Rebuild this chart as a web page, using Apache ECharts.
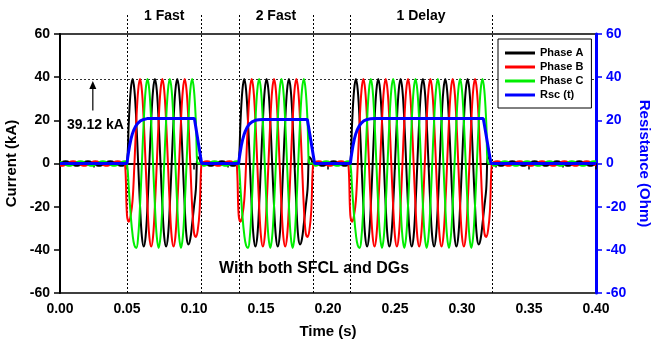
<!DOCTYPE html>
<html>
<head>
<meta charset="utf-8">
<script src="https://cdn.jsdelivr.net/npm/echarts@6/dist/echarts.min.js"></script>
<style>
  html, body { margin: 0; padding: 0; background: #fff; }
  #chart { width: 653px; height: 345px; }
</style>
</head>
<body>
<div id="chart"></div>
<script>
// Phase currents (kA), sampled every 1/720 s (12 samples per 60 Hz cycle), t = 0 ... 0.40 s
const SAMPLE_RATE = 720;

const phaseA = [
  0, 0.5, 0.9, 1, 0.9, 0.5, 0, -0.5, -0.9, -1, -0.9, -0.5,
  0, 0.5, 0.9, 1, 0.9, 0.5, 0, -0.5, -0.9, -1, -0.9, -0.5,
  0, 0.5, 0.9, 1, 0.9, 0.5, 0, -0.5, -0.9, -1, -0.9, -0.5,
  0, 19.6, 33.9, 39.1, 33.9, 19.6, 0, -19.6, -33.9, -38.5, -33.9, -19.6,
  0, 19.6, 33.9, 39.1, 33.9, 19.6, 0, -19.6, -33.9, -38.5, -33.9, -19.6,
  0, 19.6, 33.9, 39.1, 33.9, 19.6, 0, -19.6, -33.9, -37.5, -35, -28,
  -20, -12, 3, 2, 0, 0.5, 0, -0.5, -0.9, -1, -0.9, -0.5,
  0, 0.5, 0.9, 1, 0.9, 0.5, 0, -0.5, -0.9, -1, -0.9, -0.5,
  0, 19.6, 33.9, 39.1, 33.9, 19.6, 0, -19.6, -33.9, -38.5, -33.9, -19.6,
  0, 19.6, 33.9, 39.1, 33.9, 19.6, 0, -19.6, -33.9, -38.5, -33.9, -19.6,
  0, 19.6, 33.9, 39.1, 33.9, 19.6, 0, -19.6, -33.9, -37.5, -35, -28,
  -20, -12, 3, 2, 0, 0.5, 0, -0.5, -0.9, -1, -0.9, -0.5,
  0, 0.5, 0.9, 1, 0.9, 0.5, 0, -0.5, -0.9, -1, -0.9, -0.5,
  0, 19.6, 33.9, 39.1, 33.9, 19.6, 0, -19.6, -33.9, -38.5, -33.9, -19.6,
  0, 19.6, 33.9, 39.1, 33.9, 19.6, 0, -19.6, -33.9, -38.5, -33.9, -19.6,
  0, 19.6, 33.9, 39.1, 33.9, 19.6, 0, -19.6, -33.9, -38.5, -33.9, -19.6,
  0, 19.6, 33.9, 39.1, 33.9, 19.6, 0, -19.6, -33.9, -38.5, -33.9, -19.6,
  0, 19.6, 33.9, 39.1, 33.9, 19.6, 0, -19.6, -33.9, -38.5, -33.9, -19.6,
  0, 19.6, 33.9, 39.1, 33.9, 19.6, 0, -19.6, -33.9, -37.5, -35, -28,
  -20, -12, 3, 2, 0, 0.5, 0, -0.5, -0.9, -1, -0.9, -0.5,
  0, 0.5, 0.9, 1, 0.9, 0.5, 0, -0.5, -0.9, -1, -0.9, -0.5,
  0, 0.5, 0.9, 1, 0.9, 0.5, 0, -0.5, -0.9, -1, -0.9, -0.5,
  0, 0.5, 0.9, 1, 0.9, 0.5, 0, -0.5, -0.9, -1, -0.9, -0.5,
  0, 0.5, 0.9, 1, 0.9, 0.5, 0, -0.5, -0.9, -1, -0.9, -0.5,
  0
];

const phaseB = [
  -0.9, -1, -0.9, -0.5, 0, 0.5, 0.9, 1, 0.9, 0.5, 0, -0.5,
  -0.9, -1, -0.9, -0.5, 0, 0.5, 0.9, 1, 0.9, 0.5, 0, -0.5,
  -0.9, -1, -0.9, -0.5, 0, 0.5, 0.9, 1, 0.9, 0.5, 0, -0.5,
  -24, -27, -24, -17, 0, 19.6, 33.9, 39.1, 33.9, 19.6, 0, -19.6,
  -33.9, -38.5, -33.9, -19.6, 0, 19.6, 33.9, 39.1, 33.9, 19.6, 0, -19.6,
  -33.9, -38.5, -33.9, -19.6, 0, 19.6, 33.9, 39.1, 33.9, 19.6, 0, -19.6,
  -32, -34, -31, -22, 0, 0.5, 0.9, 1, 0.9, 0.5, 0, -0.5,
  -0.9, -1, -0.9, -0.5, 0, 0.5, 0.9, 1, 0.9, 0.5, 0, -0.5,
  -24, -27, -24, -17, 0, 19.6, 33.9, 39.1, 33.9, 19.6, 0, -19.6,
  -33.9, -38.5, -33.9, -19.6, 0, 19.6, 33.9, 39.1, 33.9, 19.6, 0, -19.6,
  -33.9, -38.5, -33.9, -19.6, 0, 19.6, 33.9, 39.1, 33.9, 19.6, 0, -19.6,
  -32, -34, -31, -22, 0, 0.5, 0.9, 1, 0.9, 0.5, 0, -0.5,
  -0.9, -1, -0.9, -0.5, 0, 0.5, 0.9, 1, 0.9, 0.5, 0, -0.5,
  -24, -27, -24, -17, 0, 19.6, 33.9, 39.1, 33.9, 19.6, 0, -19.6,
  -33.9, -38.5, -33.9, -19.6, 0, 19.6, 33.9, 39.1, 33.9, 19.6, 0, -19.6,
  -33.9, -38.5, -33.9, -19.6, 0, 19.6, 33.9, 39.1, 33.9, 19.6, 0, -19.6,
  -33.9, -38.5, -33.9, -19.6, 0, 19.6, 33.9, 39.1, 33.9, 19.6, 0, -19.6,
  -33.9, -38.5, -33.9, -19.6, 0, 19.6, 33.9, 39.1, 33.9, 19.6, 0, -19.6,
  -33.9, -38.5, -33.9, -19.6, 0, 19.6, 33.9, 39.1, 33.9, 19.6, 0, -19.6,
  -32, -34, -31, -22, 0, 0.5, 0.9, 1, 0.9, 0.5, 0, -0.5,
  -0.9, -1, -0.9, -0.5, 0, 0.5, 0.9, 1, 0.9, 0.5, 0, -0.5,
  -0.9, -1, -0.9, -0.5, 0, 0.5, 0.9, 1, 0.9, 0.5, 0, -0.5,
  -0.9, -1, -0.9, -0.5, 0, 0.5, 0.9, 1, 0.9, 0.5, 0, -0.5,
  -0.9, -1, -0.9, -0.5, 0, 0.5, 0.9, 1, 0.9, 0.5, 0, -0.5,
  -0.9
];

const phaseC = [
  0.9, 0.5, 0, -0.5, -0.9, -1, -0.9, -0.5, 0, 0.5, 0.9, 1,
  0.9, 0.5, 0, -0.5, -0.9, -1, -0.9, -0.5, 0, 0.5, 0.9, 1,
  0.9, 0.5, 0, -0.5, -0.9, -1, -0.9, -0.5, 0, 0.5, 0.9, 1,
  0, -12, -24, -33, -38, -39.1, -33.9, -19.6, 0, 19.6, 33.9, 39.1,
  33.9, 19.6, 0, -19.6, -33.9, -39.1, -33.9, -19.6, 0, 19.6, 33.9, 39.1,
  33.9, 19.6, 0, -19.6, -33.9, -39.1, -33.9, -19.6, 0, 19.6, 33.9, 39.1,
  33.9, 19.6, 0, 0, 0, -1, -0.9, -0.5, 0, 0.5, 0.9, 1,
  0.9, 0.5, 0, -0.5, -0.9, -1, -0.9, -0.5, 0, 0.5, 0.9, 1,
  0, -12, -24, -33, -38, -39.1, -33.9, -19.6, 0, 19.6, 33.9, 39.1,
  33.9, 19.6, 0, -19.6, -33.9, -39.1, -33.9, -19.6, 0, 19.6, 33.9, 39.1,
  33.9, 19.6, 0, -19.6, -33.9, -39.1, -33.9, -19.6, 0, 19.6, 33.9, 39.1,
  33.9, 19.6, 0, 0, 0, -1, -0.9, -0.5, 0, 0.5, 0.9, 1,
  0.9, 0.5, 0, -0.5, -0.9, -1, -0.9, -0.5, 0, 0.5, 0.9, 1,
  0, -12, -24, -33, -38, -39.1, -33.9, -19.6, 0, 19.6, 33.9, 39.1,
  33.9, 19.6, 0, -19.6, -33.9, -39.1, -33.9, -19.6, 0, 19.6, 33.9, 39.1,
  33.9, 19.6, 0, -19.6, -33.9, -39.1, -33.9, -19.6, 0, 19.6, 33.9, 39.1,
  33.9, 19.6, 0, -19.6, -33.9, -39.1, -33.9, -19.6, 0, 19.6, 33.9, 39.1,
  33.9, 19.6, 0, -19.6, -33.9, -39.1, -33.9, -19.6, 0, 19.6, 33.9, 39.1,
  33.9, 19.6, 0, -19.6, -33.9, -39.1, -33.9, -19.6, 0, 19.6, 33.9, 39.1,
  33.9, 19.6, 0, 0, 0, -1, -0.9, -0.5, 0, 0.5, 0.9, 1,
  0.9, 0.5, 0, -0.5, -0.9, -1, -0.9, -0.5, 0, 0.5, 0.9, 1,
  0.9, 0.5, 0, -0.5, -0.9, -1, -0.9, -0.5, 0, 0.5, 0.9, 1,
  0.9, 0.5, 0, -0.5, -0.9, -1, -0.9, -0.5, 0, 0.5, 0.9, 1,
  0.9, 0.5, 0, -0.5, -0.9, -1, -0.9, -0.5, 0, 0.5, 0.9, 1,
  0.9
];

// SFCL resistance Rsc(t) in Ohm
const rscTime = [
  0, 0.0500, 0.0505, 0.0510, 0.0520, 0.0530, 0.0540, 0.0550, 0.0565, 0.0580, 0.0600, 0.0625, 0.0650, 0.0680, 0.1003, 0.1057,
  0.1333, 0.1338, 0.1343, 0.1353, 0.1363, 0.1373, 0.1383, 0.1398, 0.1413, 0.1433, 0.1458, 0.1483, 0.1513, 0.1846, 0.1900,
  0.2167, 0.2172, 0.2177, 0.2187, 0.2197, 0.2207, 0.2217, 0.2232, 0.2247, 0.2267, 0.2292, 0.2317, 0.2347, 0.3159, 0.3216, 0.4000
];
const rscOhm = [
  0, 0, 2.5, 4.6, 8.4, 11.4, 13.7, 15.4, 17.3, 18.6, 19.7, 20.4, 20.8, 20.9, 20.9, 0,
  0, 2.4, 4.5, 8.2, 11.1, 13.3, 15.0, 16.9, 18.2, 19.3, 20.0, 20.3, 20.4, 20.4, 0,
  0, 2.5, 4.6, 8.4, 11.4, 13.7, 15.4, 17.3, 18.6, 19.7, 20.4, 20.7, 20.8, 20.8, 0, 0
];

// Fault / reclosing windows (s)
const windowStart = [0.05, 0.13333, 0.21667];
const windowEnd = [0.10556, 0.18889, 0.32222];
const windowLabels = ['1 Fast', '2 Fast', '1 Delay'];

const peakCurrent = 39.12;     // kA
const seriesNames = ['Phase A', 'Phase B', 'Phase C', 'Rsc (t)'];
const seriesColors = ['#000000', '#ff0000', '#00ee00', '#0000ff'];

const FONT = "'Liberation Sans', Arial, sans-serif";
const boldText = (size, color) => ({ fontFamily: FONT, fontWeight: 'bold', fontSize: size, color: color });

const toPairs = vals => vals.map((v, k) => [k / SAMPLE_RATE, v]);

const currentSeries = [phaseA, phaseB, phaseC].map((vals, i) => ({
  name: seriesNames[i],
  type: 'line',
  data: toPairs(vals),
  symbol: 'none',
  smooth: 0.4,
  yAxisIndex: 0,
  z: 2 + i,
  lineStyle: { color: seriesColors[i], width: 2 },
  itemStyle: { color: seriesColors[i] }
}));

currentSeries[0].markLine = {
  silent: true,
  z: 1,
  symbol: 'none',
  label: { show: false },
  lineStyle: { color: '#333', width: 1, type: [2, 2] },
  data: [{ yAxis: peakCurrent }]
};

const rscSeries = {
  name: seriesNames[3],
  type: 'line',
  data: rscTime.map((t, i) => [t, rscOhm[i]]),
  symbol: 'none',
  yAxisIndex: 1,
  z: 6,
  lineStyle: { color: seriesColors[3], width: 3 },
  itemStyle: { color: seriesColors[3] }
};

const option = {
  animation: false,
  backgroundColor: '#fff',
  textStyle: { fontFamily: FONT },
  grid: {
    left: 60, right: 57, top: 34, bottom: 52,
    containLabel: false,
    outerBoundsMode: 'none',
    show: true, borderColor: '#000', borderWidth: 1.5, backgroundColor: 'transparent'
  },
  legend: {
    left: 498, top: 39,
    z: 20,
    orient: 'vertical',
    backgroundColor: '#fff',
    borderColor: '#000', borderWidth: 1, borderRadius: 0,
    padding: [8, 8, 7, 7],
    itemGap: 2, itemWidth: 30, itemHeight: 3,
    icon: 'rect',
    textStyle: Object.assign(boldText(11, '#000'), { lineHeight: 12 }),
    data: seriesNames
  },
  xAxis: {
    type: 'value', min: 0, max: 0.4, interval: 0.05,
    name: 'Time (s)', nameLocation: 'middle', nameGap: 31,
    nameTextStyle: boldText(15, '#000'),
    axisLine: { show: true, lineStyle: { color: '#000', width: 2 } },
    axisTick: { show: true, length: 6, lineStyle: { color: '#000', width: 1.5 } },
    minorTick: { show: true, splitNumber: 2, length: 4, lineStyle: { color: '#000', width: 1.5 } },
    axisLabel: Object.assign(boldText(14, '#000'), { margin: 9, formatter: v => v.toFixed(2) }),
    splitLine: { show: false }
  },
  yAxis: [
    {
      type: 'value', position: 'left', min: -60, max: 60, interval: 20,
      name: 'Current (kA)', nameLocation: 'middle', nameGap: 36, nameRotate: 90,
      nameTextStyle: boldText(15, '#000'),
      axisLine: { show: true, lineStyle: { color: '#000', width: 2 } },
      axisTick: { show: true, length: 6, lineStyle: { color: '#000', width: 1.5 } },
      axisLabel: Object.assign(boldText(14, '#000'), { margin: 10 }),
      splitLine: { show: false }
    },
    {
      type: 'value', position: 'right', min: -60, max: 60, interval: 20,
      name: 'Resistance (Ohm)', nameLocation: 'middle', nameGap: 34, nameRotate: -90,
      nameTextStyle: boldText(15, '#0000ff'),
      axisLine: { show: true, lineStyle: { color: '#0000ff', width: 3 } },
      axisTick: { show: true, length: 6, lineStyle: { color: '#0000ff', width: 1.5 } },
      axisLabel: Object.assign(boldText(14, '#0000ff'), { margin: 10 }),
      splitLine: { show: false }
    }
  ],
  series: currentSeries.concat([rscSeries])
};

const chart = echarts.init(document.getElementById('chart'), null, { renderer: 'canvas' });
chart.setOption(option);

// Annotations placed through the chart's own coordinate conversion
const pt = (t, v) => chart.convertToPixel({ seriesIndex: 0 }, [t, v]);
const yTop = pt(0, 60)[1];
const yBottom = pt(0, -60)[1];
const textEl = (x, y, text, size) => ({
  type: 'text', z: 100, silent: true,
  style: {
    x: x, y: y, text: text,
    font: 'bold ' + size + 'px ' + FONT, fill: '#000',
    align: 'center', verticalAlign: 'middle',
    textAlign: 'center', textVerticalAlign: 'middle'
  }
});

const elements = [];
windowStart.forEach((t0, i) => {
  const t1 = windowEnd[i];
  [t0, t1].forEach(t => {
    const x = Math.round(pt(t, 0)[0]) + 0.5;
    elements.push({
      type: 'line', z: 1, silent: true,
      shape: { x1: x, y1: yTop - 19, x2: x, y2: yBottom },
      style: { stroke: '#000', lineWidth: 1, lineDash: [2, 2] }
    });
  });
  const xc = pt((t0 + t1) / 2, 0)[0];
  elements.push(textEl(xc, yTop - 18, windowLabels[i], 14));
});

// arrow pointing to the peak current level
const arrowBase = pt(0.0245, 24.6);
const arrowTip = pt(0.0245, 38.2);
elements.push({
  type: 'line', z: 100, silent: true,
  shape: { x1: arrowBase[0], y1: arrowBase[1], x2: arrowTip[0], y2: arrowTip[1] + 6 },
  style: { stroke: '#000', lineWidth: 1.2 }
});
elements.push({
  type: 'polygon', z: 100, silent: true,
  shape: { points: [[arrowTip[0], arrowTip[1]], [arrowTip[0] - 3.5, arrowTip[1] + 8], [arrowTip[0] + 3.5, arrowTip[1] + 8]] },
  style: { fill: '#000' }
});
const peakLabelPos = pt(0.0264, 17.6);
elements.push(textEl(peakLabelPos[0], peakLabelPos[1], peakCurrent.toFixed(2) + ' kA', 14));

const notePos = pt(0.1896, -48.9);
elements.push(textEl(notePos[0], notePos[1], 'With both SFCL and DGs', 16));

chart.setOption({ graphic: { elements: elements } });
</script>
</body>
</html>
